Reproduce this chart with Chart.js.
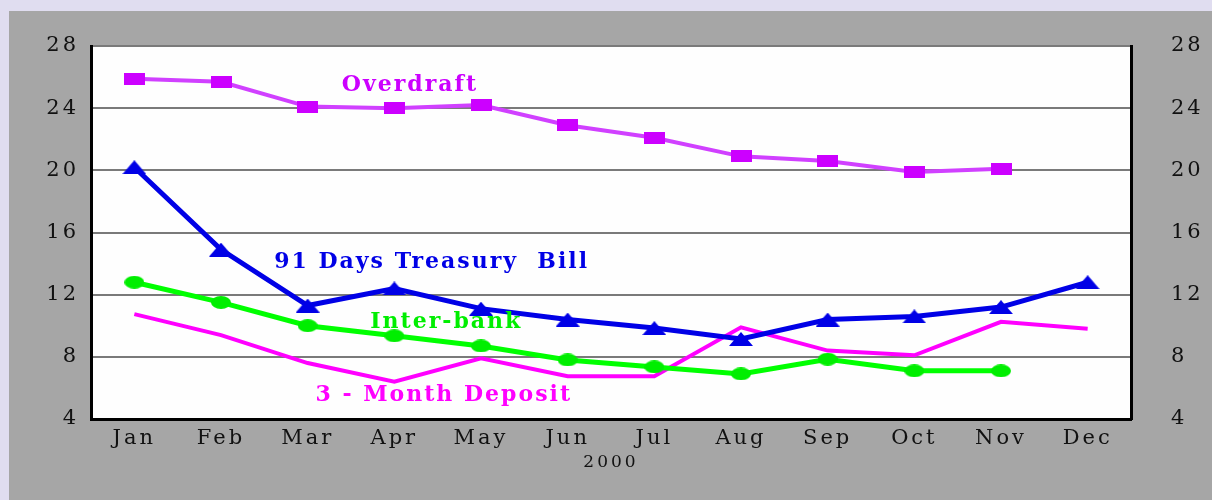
<!DOCTYPE html>
<html>
<head>
<meta charset="utf-8">
<script src="https://cdn.jsdelivr.net/npm/chart.js@4/dist/chart.umd.min.js"></script>
<style>
  html, body { margin: 0; padding: 0; background: #e0ddf0; }
  #c { display: block; }
</style>
</head>
<body>
<canvas id="c" width="1212" height="500"></canvas>
<script>
const months = ['Jan','Feb','Mar','Apr','May','Jun','Jul','Aug','Sep','Oct','Nov','Dec'];
const overdraft = [25.9, 25.7, 24.1, 24.0, 24.2, 22.9, 22.1, 20.9, 20.6, 19.9, 20.1, null];
const treasury  = [20.2, 14.9, 11.3, 12.4, 11.1, 10.4, 9.85, 9.15, 10.4, 10.6, 11.2, 12.8];
const interbank = [12.8, 11.5, 10.0, 9.35, 8.7, 7.8, 7.35, 6.9, 7.85, 7.1, 7.1, null];
const deposit   = [10.75, 9.4, 7.6, 6.4, 7.9, 6.75, 6.75, 9.9, 8.4, 8.1, 10.25, 9.8];
const seriesNames = ['Overdraft', '91 Days Treasury  Bill', 'Inter-bank', '3 - Month Deposit'];
const yMin = 4, yMax = 28, yStep = 4;
const xTitle = '2000';

// label anchor positions in data space (category index, value)
const labelAnchors = [[3.18, 25.45], [3.43, 14.1], [3.6, 10.25], [3.57, 5.55]];
const labelColors = ['#cc00ff', '#0000e6', '#00ee00', '#ff00ff'];

function makeMarker(shape, w, h, color) {
  const c = document.createElement('canvas');
  c.width = w; c.height = h;
  const g = c.getContext('2d');
  g.fillStyle = color;
  if (shape === 'rect') {
    g.fillRect(0, 0, w, h);
  } else if (shape === 'tri') {
    g.beginPath(); g.moveTo(w / 2, 0); g.lineTo(w, h); g.lineTo(0, h); g.closePath(); g.fill();
  } else {
    g.beginPath(); g.ellipse(w / 2, h / 2, w / 2, h / 2, 0, 0, Math.PI * 2); g.fill();
  }
  return c;
}

const bgPlugin = {
  id: 'bg',
  beforeDraw(chart) {
    const ctx = chart.ctx, a = chart.chartArea;
    ctx.save();
    ctx.fillStyle = '#e0ddf0';
    ctx.fillRect(0, 0, chart.width, chart.height);
    ctx.fillStyle = '#a6a6a6';
    ctx.fillRect(9, 11, chart.width - 9, chart.height - 11);
    ctx.fillStyle = '#fefefe';
    ctx.fillRect(a.left, a.top, a.right - a.left, a.bottom - a.top);
    ctx.restore();
    ctx.letterSpacing = '3px';
  },
  afterDraw(chart) {
    chart.ctx.letterSpacing = '0px';
  }
};

const labelPlugin = {
  id: 'seriesLabels',
  afterDatasetsDraw(chart) {
    const ctx = chart.ctx;
    const xs = chart.scales.x, ys = chart.scales.y;
    ctx.save();
    ctx.letterSpacing = '2px';
    ctx.font = 'bold 22px "DejaVu Serif"';
    ctx.textAlign = 'center';
    ctx.textBaseline = 'middle';
    seriesNames.forEach((name, i) => {
      const [ix, v] = labelAnchors[i];
      const x0 = xs.getPixelForValue(Math.floor(ix));
      const x1 = xs.getPixelForValue(Math.floor(ix) + 1);
      const px = x0 + (x1 - x0) * (ix - Math.floor(ix));
      const py = ys.getPixelForValue(v);
      ctx.fillStyle = labelColors[i];
      ctx.fillText(name, px, py);
    });
    ctx.restore();
  }
};

const tickFont = { family: '"DejaVu Serif"', size: 21 };

new Chart(document.getElementById('c'), {
  type: 'line',
  data: {
    labels: months,
    datasets: [
      {
        label: seriesNames[0], data: overdraft,
        borderColor: '#d040ff', borderWidth: 4,
        pointStyle: makeMarker('rect', 21, 12, '#cc00ff'), pointRadius: 6,
        tension: 0, spanGaps: false
      },
      {
        label: seriesNames[1], data: treasury,
        borderColor: '#0000e6', borderWidth: 5,
        pointStyle: makeMarker('tri', 24, 14, '#0000e6'), pointRadius: 6,
        tension: 0
      },
      {
        label: seriesNames[2], data: interbank,
        borderColor: '#00ff00', borderWidth: 5,
        pointStyle: makeMarker('ellipse', 20, 13, '#00ee00'), pointRadius: 6,
        tension: 0
      },
      {
        label: seriesNames[3], data: deposit,
        borderColor: '#ff00ff', borderWidth: 4,
        pointRadius: 0, tension: 0
      }
    ]
  },
  options: {
    responsive: false,
    animation: false,
    layout: { padding: { left: 0, right: 0, top: 46, bottom: 0 } },
    plugins: { legend: { display: false }, tooltip: { enabled: false } },
    scales: {
      x: {
        type: 'category',
        offset: true,
        grid: { display: false, drawTicks: false },
        border: { color: '#000', width: 3 },
        ticks: { font: tickFont, color: '#111', padding: 7, maxRotation: 0, autoSkip: false },
        title: { display: true, text: xTitle, font: { family: '"DejaVu Serif"', size: 17 }, color: '#111', padding: { top: 4, bottom: 27 } },
        afterFit(s) { s.height = 81; s.paddingLeft = 0; s.paddingRight = 0; }
      },
      y: {
        position: 'left',
        min: yMin, max: yMax,
        ticks: { stepSize: yStep, font: tickFont, color: '#111', padding: 12 },
        grid: { color: (c) => c.tick && c.tick.value === yMin ? 'rgba(0,0,0,0)' : '#7a7a7a', lineWidth: 2, drawTicks: false },
        border: { color: '#000', width: 3 },
        afterFit(s) { s.width = 91; s.paddingTop = 0; s.paddingBottom = 0; }
      },
      y2: {
        position: 'right',
        min: yMin, max: yMax,
        ticks: { stepSize: yStep, font: tickFont, color: '#111', padding: 40 },
        grid: { display: false, drawTicks: false },
        border: { color: '#000', width: 3 },
        afterFit(s) { s.width = 81; s.paddingTop = 0; s.paddingBottom = 0; }
      }
    }
  },
  plugins: [bgPlugin, labelPlugin]
});
</script>
</body>
</html>
